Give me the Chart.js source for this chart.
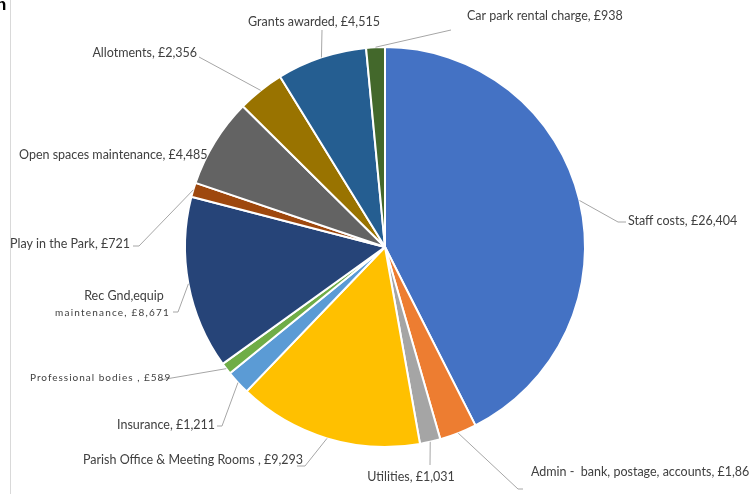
<!DOCTYPE html>
<html>
<head>
<meta charset="utf-8">
<script src="https://cdn.jsdelivr.net/npm/chart.js@4"></script>
<style>
  html, body { margin: 0; padding: 0; background: #fff; }
  #wrap { position: relative; width: 749px; height: 494px; overflow: hidden; }
  #edge { position: absolute; left: 10px; top: 0; width: 1px; height: 494px; background: #d9d9d9; }
  #frag { position: absolute; left: -4px; top: -5px; font: bold 17px "Liberation Sans", sans-serif; color: #000; }
</style>
</head>
<body>
<div id="wrap">
  <div id="edge"></div>
  <div id="frag">n</div>
  <canvas id="pieChart" width="749" height="494"></canvas>
</div>
<script>
// Expenditure pie
const categories = [
  'Staff costs',
  'Admin -  bank, postage, accounts',
  'Utilities',
  'Parish Office & Meeting Rooms ',
  'Insurance',
  'Professional bodies ',
  'Rec Gnd,equip maintenance',
  'Play in the Park',
  'Open spaces maintenance',
  'Allotments',
  'Grants awarded',
  'Car park rental charge'
];
const amounts = [26404, 1867, 1031, 9293, 1211, 589, 8671, 721, 4485, 2356, 4515, 938];
const colors = ['#4472C4', '#ED7D31', '#A5A5A5', '#FFC000', '#5B9BD5', '#70AD47',
                '#264478', '#9E480E', '#636363', '#997300', '#255E91', '#43682B'];

// where each label sits and where its leader line bends (layout only)
const labelLayout = [
  { x: 628, y: 221, align: 'left', path: [[618, 222], [626, 222]] },
  { x: 531, y: 472, align: 'left', path: [[518, 489], [523, 489]] },
  { x: 411, y: 477, align: 'center', path: [[430, 465]] },
  { x: 303, y: 460, align: 'right', path: [[305, 466], [297, 466]] },
  { x: 215, y: 425, align: 'right', path: [[222, 426], [217, 426]] },
  { x: 30, y: 378, align: 'left', small: true, path: [[160, 380]] },
  { x: 170, y: 313, align: 'right', split: ['Rec Gnd,equip', 'maintenance'], path: [[178, 312], [173, 312]] },
  { x: 130, y: 244, align: 'right', path: [[139, 246], [133, 246]] },
  { x: 19, y: 155, align: 'left', path: null },
  { x: 197, y: 53, align: 'right', path: [[199, 57]] },
  { x: 314, y: 22, align: 'center', path: [[322, 30]] },
  { x: 467, y: 16, align: 'left', path: [[451, 30]] }
];

const fmt = v => '£' + v.toLocaleString('en-GB');
const FONT = '"Lato", "Liberation Sans", sans-serif';

const leaderLabels = {
  id: 'leaderLabels',
  afterDraw(chart) {
    const ctx = chart.ctx;
    const arcs = chart.getDatasetMeta(0).data;
    ctx.save();
    arcs.forEach((arc, i) => {
      const lay = labelLayout[i];
      const mid = (arc.startAngle + arc.endAngle) / 2;
      const px = arc.x + Math.cos(mid) * arc.outerRadius;
      const py = arc.y + Math.sin(mid) * arc.outerRadius;
      if (lay.path) {
        ctx.strokeStyle = '#A6A6A6';
        ctx.lineWidth = 1;
        ctx.beginPath();
        ctx.moveTo(px, py);
        lay.path.forEach(p => ctx.lineTo(p[0], p[1]));
        ctx.stroke();
      }
      ctx.fillStyle = '#404040';
      ctx.textBaseline = 'middle';
      ctx.textAlign = lay.align;
      const text = categories[i] + ', ' + fmt(amounts[i]);
      if (lay.small) {
        ctx.font = '10px ' + FONT;
        ctx.letterSpacing = '1px';
        ctx.fillText(text, lay.x, lay.y);
        ctx.letterSpacing = '0px';
      } else if (lay.split) {
        ctx.font = '12.5px ' + FONT;
        ctx.textAlign = 'center';
        ctx.fillText(lay.split[0], lay.x - 46, lay.y - 17);
        ctx.textAlign = 'right';
        ctx.font = '10px ' + FONT;
        ctx.letterSpacing = '1.2px';
        ctx.fillText(lay.split[1] + ', ' + fmt(amounts[i]), lay.x, lay.y);
        ctx.letterSpacing = '0px';
      } else {
        ctx.font = '12.5px ' + FONT;
        ctx.fillText(text, lay.x, lay.y);
      }
    });
    ctx.restore();
  }
};

const pieCtx = document.getElementById('pieChart');
const pieChart = new Chart(pieCtx, {
  type: 'pie',
  data: {
    labels: categories,
    datasets: [{
      data: amounts,
      backgroundColor: colors,
      borderColor: '#ffffff',
      borderWidth: 2
    }]
  },
  options: {
    responsive: false,
    animation: false,
    layout: {
      padding: { left: 184, right: 163, top: 45, bottom: 45 }
    },
    plugins: {
      legend: { display: false },
      tooltip: { enabled: false }
    }
  },
  plugins: [leaderLabels]
});
</script>
</body>
</html>
